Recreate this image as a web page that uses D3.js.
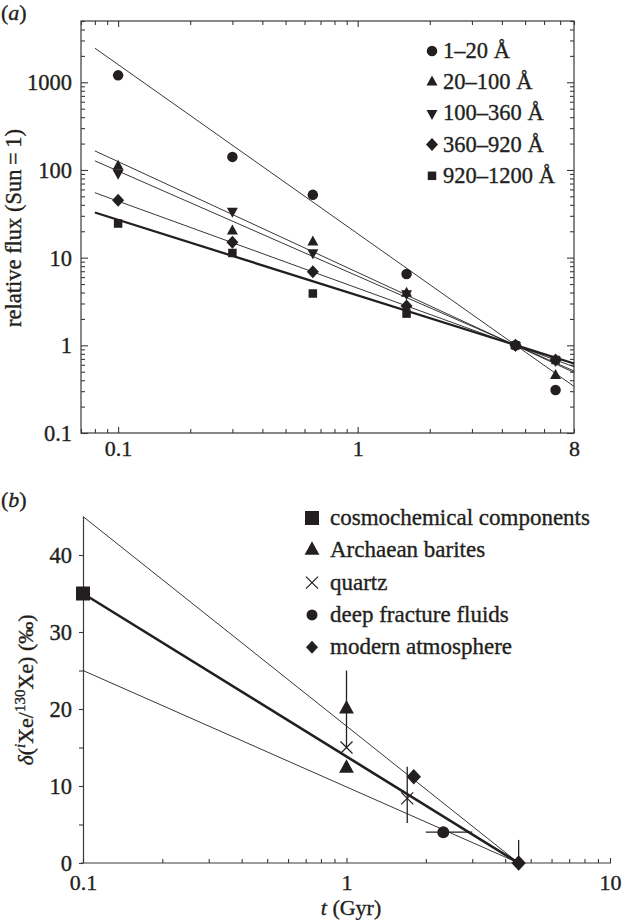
<!DOCTYPE html>
<html><head><meta charset="utf-8">
<script src="https://cdn.jsdelivr.net/npm/d3@7"></script>
<style>
body{margin:0;background:#fff}
</style>
</head><body><svg id="c" width="622" height="920"></svg>
<script>
// ---------- Panel (a) data ----------
const starAges = [0.1, 0.3, 0.65, 1.6, 4.56, 6.7];
const bandNames = ["1–20 Å", "20–100 Å", "100–360 Å", "360–920 Å", "920–1200 Å"];
const bandSymbols = ["circle", "triangle", "triangleDown", "diamond", "square"];
const flux1_20 = [1200, 141, 52, 6.5, 1, 0.31];
const flux20_100 = [110, 20, 15, 3.9, 1, 0.45];
const flux100_360 = [92, 34, 11.4, 3.9, 1, 0.68];
const flux360_920 = [45, 15, 6.9, 2.8, 1, 0.68];
const flux920_1200 = [24.5, 11.3, 3.9, 2.3, 1, 0.68];
const fitAges = [0.08, 8];
const fit1_20 = [2450, 0.34];
const fit20_100 = [165, 0.49];
const fit100_360 = [127, 0.51];
const fit360_920 = [55, 0.57];
const fit920_1200 = [32.7, 0.62];
const xTickLabelsA = [0.1, 1, 8];
const yTickLabelsA = [0.1, 1, 10, 100, 1000];

// ---------- Panel (b) data ----------
const legendB = ["cosmochemical components", "Archaean barites", "quartz", "deep fracture fluids", "modern atmosphere"];
const legendBSymbols = ["square", "triangle", "cross", "circle", "diamond"];
const cosmoT = [0.1], cosmoD = [35];
const bariteT = [1, 1], bariteD = [20, 12.3], bariteErrLo = [15, null], bariteErrHi = [25, null];
const quartzT = [1, 1.7], quartzD = [15, 8.4], quartzErrLo = [null, 5.2], quartzErrHi = [null, 12.5];
const fluidT = [2.33], fluidD = [4], fluidTLo = [2.0], fluidTHi = [3.0];
const atmT = [1.8, 4.5], atmD = [11.2, 0], atmErrLo = [null, 0], atmErrHi = [null, 3];
const modelT = [0.1, 4.5];
const modelUpper = [45, 0];
const modelMid = [35, 0];
const modelLower = [25, 0];
const xTickLabelsB = [0.1, 1, 10];
const yTickLabelsB = [0, 10, 20, 30, 40];
const yTicksB = [0, 5, 10, 15, 20, 25, 30, 35, 40];

// ---------- helpers ----------
const INK = "#231f20", AX = "#3a3a3a";
const FONT = '"Liberation Serif"';
function sym(type, s) {
  switch (type) {
    case "circle": { const r = s / 2; return `M${-r},0a${r},${r} 0 1,0 ${2*r},0a${r},${r} 0 1,0 ${-2*r},0Z`; }
    case "triangle": { const w = s * 1.1, h = s; return `M0,${-2*h/3}L${w/2},${h/3}L${-w/2},${h/3}Z`; }
    case "triangleDown": { const w = s * 1.1, h = s; return `M0,${2*h/3}L${w/2},${-h/3}L${-w/2},${-h/3}Z`; }
    case "square": { const h = s / 2; return `M${-h},${-h}H${h}V${h}H${-h}Z`; }
    case "diamond": { const rx = s * 0.6, ry = s * 0.65; return `M0,${-ry}L${rx},0L0,${ry}L${-rx},0Z`; }
    case "cross": { const h = s / 2; return `M${-h},${-h}L${h},${h}M${-h},${h}L${h},${-h}`; }
  }
}
function drawSym(g, type, x, y, s) {
  const p = g.append("path").attr("d", sym(type, s)).attr("transform", `translate(${x},${y})`);
  if (type === "cross") p.attr("fill", "none").attr("stroke", INK).attr("stroke-width", 1.2);
  else p.attr("fill", INK);
  return p;
}
function heavy(sel) { return sel.attr("stroke", INK).attr("stroke-width", 0.35); }
function txt(g) { return heavy(g.append("text").attr("font-family", FONT).attr("fill", INK)); }
const isMajor = v => Math.abs(Math.log10(v) - Math.round(Math.log10(v))) < 1e-9;

const svg = d3.select("#c");

// ================= Panel (a) =================
const xA = d3.scaleLog().domain([0.07, 8]).range([81, 574]);
const yA = d3.scaleLog().domain([0.1, 5000]).range([433, 21]);
const gA = svg.append("g");

gA.append("rect").attr("x", 81).attr("y", 21).attr("width", 574 - 81).attr("height", 433 - 21)
  .attr("fill", "none").attr("stroke", AX).attr("stroke-width", 1.2);

const xTicksA = xA.ticks().filter(v => v >= 0.07 && v <= 8);
const yTicksA = yA.ticks().filter(v => v >= 0.1 && v <= 5000);

function styleAxis(g) {
  g.attr("font-family", FONT);
  heavy(g.selectAll("text").attr("font-family", FONT).attr("fill", INK));
  g.select(".domain").remove();
  g.selectAll(".tick line").attr("stroke", AX).attr("stroke-width", 1.1);
}
const axB = gA.append("g").attr("transform", "translate(0,433)")
  .call(d3.axisBottom(xA).tickValues(xTicksA).tickSize(-4).tickFormat(d => xTickLabelsA.includes(d) ? String(d) : ""));
styleAxis(axB);
axB.selectAll(".tick line").attr("y2", d => isMajor(d) ? -6 : -4);
axB.selectAll(".tick text").attr("y", 23).attr("dy", 0).style("font-size", "22px");
const axT = gA.append("g").attr("transform", "translate(0,21)")
  .call(d3.axisTop(xA).tickValues(xTicksA).tickSize(-4).tickFormat(""));
styleAxis(axT);
axT.selectAll(".tick line").attr("y2", d => isMajor(d) ? 6 : 4);
const axL = gA.append("g").attr("transform", "translate(81,0)")
  .call(d3.axisLeft(yA).tickValues(yTicksA).tickSize(-4).tickFormat(d => yTickLabelsA.includes(d) ? String(d) : ""));
styleAxis(axL);
axL.selectAll(".tick line").attr("x2", d => isMajor(d) ? 7 : 4);
axL.selectAll(".tick text").attr("x", -9).attr("dy", "0.34em").style("font-size", "22.5px");
const axR = gA.append("g").attr("transform", "translate(574,0)")
  .call(d3.axisRight(yA).tickValues(yTicksA).tickSize(-4).tickFormat(""));
styleAxis(axR);
axR.selectAll(".tick line").attr("x2", d => isMajor(d) ? -7 : -4);

const fitsA = [fit1_20, fit20_100, fit100_360, fit360_920, fit920_1200];
const lineA = d3.line().x(d => xA(d[0])).y(d => yA(d[1]));
fitsA.forEach((f, i) => {
  gA.append("path").attr("d", lineA(fitAges.map((t, k) => [t, f[k]])))
    .attr("fill", "none").attr("stroke", INK).attr("stroke-width", i === 4 ? 2.3 : 0.9);
});

const fluxA = [flux1_20, flux20_100, flux100_360, flux360_920, flux920_1200];
const symSizeA = {circle: 10.5, triangle: 10, triangleDown: 10, diamond: 10, square: 8.5};
fluxA.forEach((vals, i) => {
  vals.forEach((v, k) => drawSym(gA, bandSymbols[i], xA(starAges[k]), yA(v), symSizeA[bandSymbols[i]]));
});

bandNames.forEach((name, i) => {
  const by = 58 + i * 31.2;
  drawSym(gA, bandSymbols[i], 432, by - 7, symSizeA[bandSymbols[i]]);
  txt(gA).attr("x", 443).attr("y", by).style("font-size", "22.5px").text(name);
});

txt(gA).attr("transform", "translate(21,228) rotate(-90)").attr("text-anchor", "middle")
  .style("font-size", "22.5px").text("relative flux (Sun\u2009=\u20091)");
const la = txt(gA).attr("x", 1).attr("y", 20).style("font-size", "22px");
la.append("tspan").text("(");
la.append("tspan").style("font-style", "italic").text("a");
la.append("tspan").text(")");

// ================= Panel (b) =================
const xB = d3.scaleLog().domain([0.1, 10]).range([83, 610]);
const yB = d3.scaleLinear().domain([0, 45]).range([863, 516.5]);
const gB = svg.append("g");

const xTicksB = xB.ticks();
const axBB = gB.append("g").attr("transform", "translate(0,863)")
  .call(d3.axisBottom(xB).tickValues(xTicksB).tickSize(-4).tickSizeOuter(0)
    .tickFormat(d => xTickLabelsB.includes(d) ? String(d) : ""));
axBB.attr("font-family", FONT);
heavy(axBB.selectAll("text").attr("font-family", FONT).attr("fill", INK));
axBB.select(".domain").attr("stroke", AX).attr("stroke-width", 1.2).attr("d", "M81,0H611");
axBB.selectAll(".tick line").attr("stroke", AX).attr("stroke-width", 1.1).attr("y2", d => isMajor(d) ? -5 : -4);
axBB.selectAll(".tick text").attr("y", 27).attr("dy", 0).style("font-size", "22px");

const axLB = gB.append("g").attr("transform", "translate(83,0)")
  .call(d3.axisLeft(yB).tickValues(yTicksB).tickSize(4).tickSizeOuter(0)
    .tickFormat(d => yTickLabelsB.includes(d) ? String(d) : ""));
axLB.attr("font-family", FONT);
heavy(axLB.selectAll("text").attr("font-family", FONT).attr("fill", INK));
axLB.select(".domain").attr("stroke", AX).attr("stroke-width", 1.2);
axLB.selectAll(".tick line").attr("stroke", AX).attr("stroke-width", 1.1);
axLB.selectAll(".tick text").attr("x", -11).attr("dy", "0.34em").style("font-size", "22.5px");

const lineB = d3.line().x(d => xB(d[0])).y(d => yB(d[1]));
[[modelUpper, 0.9], [modelMid, 2.6], [modelLower, 0.9]].forEach(([m, w]) => {
  gB.append("path").attr("d", lineB(modelT.map((t, k) => [t, m[k]])))
    .attr("fill", "none").attr("stroke", INK).attr("stroke-width", w);
});

function vErr(t, lo, hi) {
  gB.append("line").attr("x1", xB(t)).attr("x2", xB(t)).attr("y1", yB(lo)).attr("y2", yB(hi))
    .attr("stroke", INK).attr("stroke-width", 1.3);
}
function hErr(d, lo, hi) {
  gB.append("line").attr("x1", xB(lo)).attr("x2", xB(hi)).attr("y1", yB(d)).attr("y2", yB(d))
    .attr("stroke", INK).attr("stroke-width", 1.3);
}
bariteT.forEach((t, k) => { if (bariteErrLo[k] != null) vErr(t, bariteErrLo[k], bariteErrHi[k]); });
quartzT.forEach((t, k) => { if (quartzErrLo[k] != null) vErr(t, quartzErrLo[k], quartzErrHi[k]); });
atmT.forEach((t, k) => { if (atmErrLo[k] != null) vErr(t, atmErrLo[k], atmErrHi[k]); });
fluidT.forEach((t, k) => hErr(fluidD[k], fluidTLo[k], fluidTHi[k]));

cosmoT.forEach((t, k) => drawSym(gB, "square", xB(t), yB(cosmoD[k]), 14));
bariteT.forEach((t, k) => drawSym(gB, "triangle", xB(t), yB(bariteD[k]), 13.5));
quartzT.forEach((t, k) => drawSym(gB, "cross", xB(t), yB(quartzD[k]), 12));
fluidT.forEach((t, k) => drawSym(gB, "circle", xB(t), yB(fluidD[k]), 12));
atmT.forEach((t, k) => drawSym(gB, "diamond", xB(t), yB(atmD[k]), 12));

const legSizeB = {square: 14, triangle: 13.5, cross: 12, circle: 11, diamond: 10};
legendB.forEach((name, i) => {
  const by = 525 + i * 32.3;
  drawSym(gB, legendBSymbols[i], 312, by - 7, legSizeB[legendBSymbols[i]]);
  txt(gB).attr("x", 330).attr("y", by).style("font-size", "23px").text(name);
});

const lb = txt(gB).attr("x", 1).attr("y", 507).style("font-size", "22px");
lb.append("tspan").text("(");
lb.append("tspan").style("font-style", "italic").text("b");
lb.append("tspan").text(")");

const yl = txt(gB).attr("transform", "translate(33,690) rotate(-90)").attr("text-anchor", "middle")
  .style("font-size", "22px");
yl.append("tspan").style("font-style", "italic").text("δ");
yl.append("tspan").text("(");
yl.append("tspan").style("font-style", "italic").style("font-size", "15px").attr("dy", -8).text("i");
yl.append("tspan").attr("dy", 8).text("Xe/");
yl.append("tspan").style("font-size", "15px").attr("dy", -8).text("130");
yl.append("tspan").attr("dy", 8).text("Xe) (‰)");

const xl = txt(gB).attr("x", 351).attr("y", 915).attr("text-anchor", "middle").style("font-size", "22px");
xl.append("tspan").style("font-style", "italic").text("t");
xl.append("tspan").text(" (Gyr)");
</script>
</body></html>
